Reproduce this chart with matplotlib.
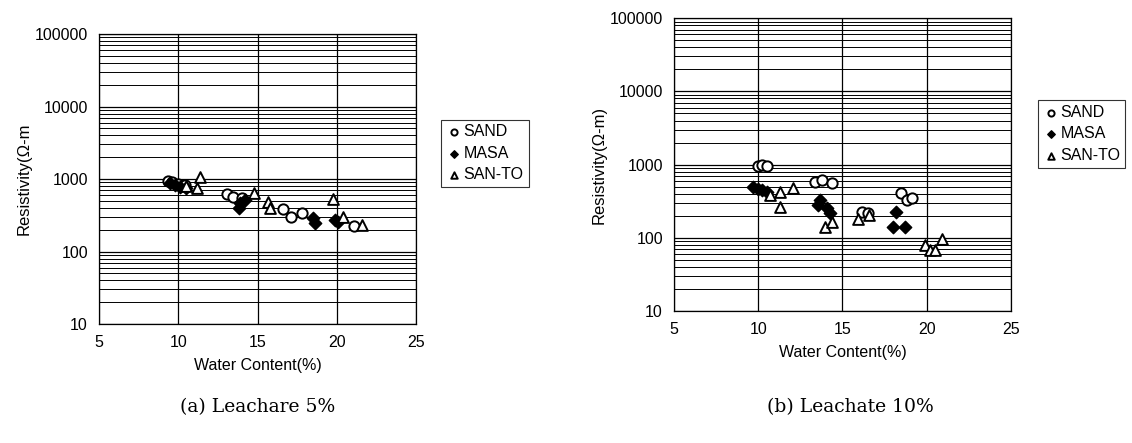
import numpy as np
from matplotlib import pyplot as plt
from matplotlib.ticker import LogLocator, FixedLocator, NullFormatter

plt.rcParams['font.family'] = ['Liberation Sans', 'DejaVu Sans']

# (a) Leachate 5%
a_sand_x = [9.35, 9.6, 10.0, 10.4, 13.07, 13.45, 14.0, 16.6, 17.1, 17.8, 21.1]
a_sand_y = [950, 900, 850, 820, 620, 565, 540, 385, 300, 340, 225]
a_masa_x = [9.5, 9.8, 10.1, 10.5, 13.9, 13.8, 14.2, 18.5, 18.6, 19.9, 20.1]
a_masa_y = [880, 820, 780, 760, 465, 400, 520, 290, 246, 270, 255]
a_santo_x = [10.5, 11.2, 11.4, 14.8, 15.65, 15.8, 19.75, 20.4, 21.6]
a_santo_y = [800, 750, 1070, 640, 480, 400, 530, 300, 232]

# (b) Leachate 10%
b_sand_x = [10.0, 10.2, 10.5, 13.36, 13.8, 14.4, 16.15, 16.5, 18.5, 18.8, 19.1]
b_sand_y = [950, 985, 950, 575, 610, 560, 225, 215, 410, 330, 345]
b_masa_x = [9.7, 10.0, 10.2, 10.5, 13.55, 13.65, 14.1, 14.25, 18.0, 18.2, 18.7]
b_masa_y = [500, 470, 450, 420, 280, 330, 255, 220, 140, 225, 140]
b_santo_x = [10.7, 11.3, 11.3, 12.05, 13.95, 14.4, 15.9, 16.6, 19.9, 20.2, 20.5, 20.9]
b_santo_y = [385, 420, 265, 480, 140, 165, 180, 205, 80, 68, 68, 96]


def draw(ax, data, ylabel, legend_pos):
    sx, sy, mx, my, tx, ty = data
    ax.scatter(sx, sy, marker='o', s=55, facecolors='white', edgecolors='black',
               linewidths=1.4, label='SAND', zorder=3)
    ax.scatter(mx, my, marker='D', s=40, color='black', label='MASA', zorder=3)
    ax.scatter(tx, ty, marker='^', s=60, facecolors='white', edgecolors='black',
               linewidths=1.4, label='SAN-TO', zorder=3)
    ax.set_yscale('log')
    ax.set_xlim(5, 25)
    ax.set_ylim(10, 100000)
    ax.xaxis.set_major_locator(FixedLocator([5, 10, 15, 20, 25]))
    ax.yaxis.set_minor_locator(LogLocator(base=10, subs=np.arange(2, 10), numticks=10))
    ax.yaxis.set_minor_formatter(NullFormatter())
    ax.set_yticks([10, 100, 1000, 10000, 100000])
    ax.set_yticklabels(['10', '100', '1000', '10000', '100000'])
    ax.grid(True, which='major', axis='both', color='black', linewidth=0.9)
    ax.grid(True, which='minor', axis='y', color='black', linewidth=0.7)
    ax.tick_params(which='both', length=0, labelsize=11.5, pad=8)
    for s in ax.spines.values():
        s.set_linewidth(0.9)
    ax.set_xlabel('Water Content(%)', fontsize=11.5, labelpad=6)
    ax.set_ylabel(ylabel, fontsize=12, labelpad=2)
    leg = ax.legend(loc='upper left', bbox_to_anchor=legend_pos, fontsize=11.5,
                    frameon=True, fancybox=False, edgecolor='black',
                    handletextpad=0.1, borderpad=0.3, labelspacing=0.4,
                    markerscale=0.6, handlelength=1.0, borderaxespad=0)
    leg.get_frame().set_linewidth(0.8)


fig = plt.figure(figsize=(11.32, 4.43), dpi=100)
ax1 = fig.add_axes([0.0875, 0.2686, 0.28, 0.6546])
ax2 = fig.add_axes([0.5954, 0.298, 0.2977, 0.661])

draw(ax1, (a_sand_x, a_sand_y, a_masa_x, a_masa_y, a_santo_x, a_santo_y),
     'Resistivity(Ω-m', (1.08, 0.705))
draw(ax2, (b_sand_x, b_sand_y, b_masa_x, b_masa_y, b_santo_x, b_santo_y),
     'Resistivity(Ω-m)', (1.08, 0.72))

fig.text(0.228, 0.08, '(a) Leachare 5%', ha='center', va='center',
         fontsize=13.5, family='DejaVu Serif')
fig.text(0.751, 0.08, '(b) Leachate 10%', ha='center', va='center',
         fontsize=13.5, family='DejaVu Serif')

plt.savefig('out.png', dpi=100)
